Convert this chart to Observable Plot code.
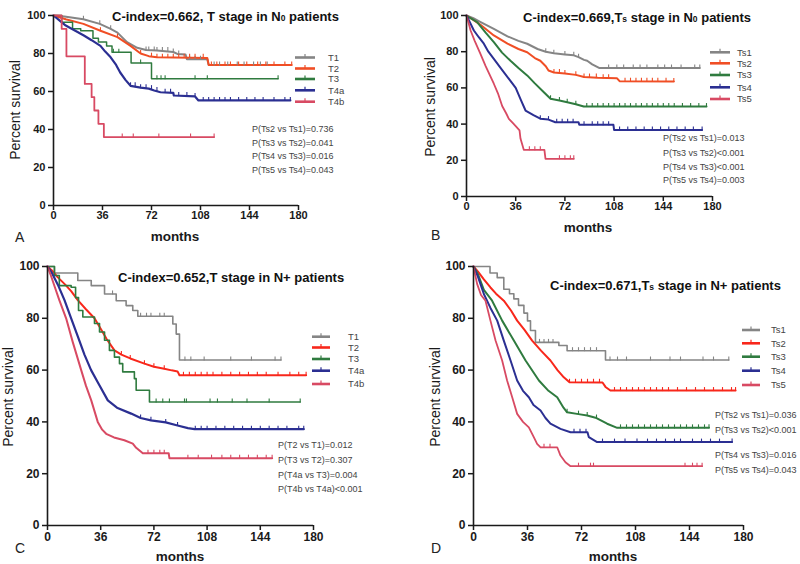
<!DOCTYPE html>
<html><head><meta charset="utf-8">
<script src="https://cdn.jsdelivr.net/npm/d3@7"></script>
<script src="https://cdn.jsdelivr.net/npm/@observablehq/plot@0.6"></script>
<style>
body{margin:0;background:#fff;}
#root{position:relative;width:800px;height:564px;overflow:hidden;background:#fff;font-family:"Liberation Sans",Arial,sans-serif;}
.panel{position:absolute;}
</style></head><body><div id="root"></div>
<script>
// ---------- shared ticks ----------
const xTicks = [0, 36, 72, 108, 144, 180];
const yTicks = [0, 20, 40, 60, 80, 100];

// ---------- Panel A: T stage in N0 ----------
const A_names = ["T1", "T2", "T3", "T4a", "T4b"];
const A_T1 = [[0,100],[8,99.5],[22,98],[34,95.6],[42,93],[47,91],[54,86],[61.5,83],[68,81.8],[76,81.6],[88,80.8],[91,79.8],[97,79.5],[98,77],[113,77],[114,74],[157,74]];
const A_T2 = [[0,100],[9,98],[22,95.6],[34.5,92],[47,88.6],[56.6,84],[64,80],[70,78.6],[76,78],[113,77.6],[114,74],[175,74]];
const A_T3 = [[0,100],[6,96.5],[14,93],[20,92],[29,88],[33,86],[39,84],[43,80.7],[57,75],[72,66.7],[165,66.7]];
const A_T4a = [[0,100],[5,97],[9,94.7],[16,92],[22.3,89.5],[28,87],[34.5,84],[38,81],[42,78],[46,74],[49,70],[53,66],[56.6,63],[64,62],[70,61.5],[74,60.5],[78.6,59.6],[88,59.3],[88.4,57.9],[104,57.4],[106.5,55.3],[174,55.3]];
const A_T4b = [[0,100],[6,93],[9.5,78.5],[23,64],[28,57],[30,50],[33,43],[37,36],[118,36]];
const A_T1_cens = [22,34,42,68,70,74,76,80,84,88,92,100,104,108,118,122,128,135,140,147,152];
const A_T2_cens = [34.5,47,64,72,76,80,84,88,92,96,100,104,110,116,120,126,130,136,142,150,156,162,170];
const A_T3_cens = [44,48,64,76,79,82,104,113];
const A_T4a_cens = [56.6,60,64,68,72,76,82,86,92,98,104,110,114,118,122,126,130,136,142,148,154,162,170];
const A_T4b_cens = [50.5,58.6,77.4,100.7];
const A_pvals = ["P(Ts2 vs Ts1)=0.736", "P(Ts3 vs Ts2)=0.041", "P(Ts4 vs Ts3)=0.016", "P(Ts5 vs Ts4)=0.043"];

// ---------- Panel B: Ts stage in N0 ----------
const B_names = ["Ts1", "Ts2", "Ts3", "Ts4", "Ts5"];
const B_Ts1 = [[0,100],[5,98.5],[10,96.5],[20,92.6],[30,88.5],[38,86],[44.4,84.4],[52,81.5],[58,80],[63.9,79.2],[72,78.5],[78.5,78],[82,77],[86,75.5],[88.3,75],[92,73],[97,71],[170.7,71]];
const B_Ts2 = [[0,100],[5,97.5],[10,95],[20,89],[30,84.5],[38,81.5],[44.4,79.7],[50,76.5],[54,75],[58,72],[60,69.6],[64,68.5],[72,68],[80,67.2],[86,66],[96,65.6],[110,65.4],[112,63.7],[151.7,63.5]];
const B_Ts3 = [[0,100],[3,98.5],[7.8,96.3],[14,90.5],[20,85.3],[26,79.5],[32.2,75],[38,71],[44.4,66.9],[50,62.5],[56.6,57.6],[61.5,54],[68,53],[73.7,52.1],[80,51],[85.8,49.7],[175.6,49.7]];
const B_Ts4 = [[0,100],[2,97],[5.4,91.7],[9,88],[12.7,84.4],[16,80],[20,76],[26,70],[32,64],[36,60],[40,53],[43.2,47.5],[49,45],[54,43],[60,42.5],[65,41],[82,41],[82.5,39.6],[107.5,39.6],[108,36.8],[172.4,36.8]];
const B_Ts5 = [[0,100],[1.5,96],[3,91.7],[6,86],[10.2,78.8],[14,72],[20,62.3],[23,57],[26.1,50],[29,46],[31,42.9],[34,40.5],[37,38],[38.8,36.5],[39.5,32],[41.9,25.8],[57,25.8],[57.8,20.8],[78.5,20.8]];
const B_Ts1_cens = [58,63.9,72,78.5,82,104,110,115,122,127,132,140,145,150,157,167];
const B_Ts2_cens = [64,68,72,80,86,90,95,100,104,116,120,124,128,132,136,140,146];
const B_Ts3_cens = [61.5,68,73.7,80,88,92,96,100,104,108,112,116,120,124,128,132,136,140,144,148,152,158,164,170];
const B_Ts4_cens = [54,60,66,70,74,78,86,92,96,100,104,112,118,124,130,136,142,148,154,160,166];
const B_Ts5_cens = [46,50,54,68,72,76];
const B_pvals = ["P(Ts2 vs Ts1)=0.013", "P(Ts3 vs Ts2)<0.001", "P(Ts4 vs Ts3)<0.001", "P(Ts5 vs Ts4)=0.003"];

// ---------- Panel C: T stage in N+ ----------
const C_names = ["T1", "T2", "T3", "T4a", "T4b"];
const C_T1 = [[0,100],[4.7,97.5],[20.5,94.6],[29.6,92.6],[38.6,89.4],[46.5,86.8],[53.2,84.9],[57.7,83],[61.1,80.8],[84.8,77.8],[87.1,73.9],[89.3,63.9],[158,63.9]];
const C_T2 = [[0,100],[3,98.5],[7,95.8],[12,93],[16,90.5],[20.5,87],[26,83.5],[31.8,80],[36,76],[40,72],[45.3,67.6],[50,66],[56,64.5],[65.6,62.5],[72,61.3],[79,60.5],[84,59.9],[88,59.5],[89.3,58],[175,58]];
const C_T3 = [[0,100],[4.7,96.5],[8,92.6],[16,92],[19,88],[21,83],[23.9,80.5],[31.8,78],[35.2,74.7],[38.6,71.5],[41.9,67.6],[45.3,65],[48.7,62.5],[50.9,59.3],[58.8,56.7],[60,52.2],[69,47.7],[171,47.7]];
const C_T4a = [[0,100],[3,97.5],[7,93],[11.5,87],[16,80],[20.5,73],[25,66],[29.5,60],[34,55.3],[40.8,48.3],[47,45.5],[56.6,43.2],[63,41.5],[70,40.6],[80,39.8],[88,38.6],[95,37.6],[99.5,37.2],[173.4,37.2]];
const C_T4b = [[0,100],[2,97],[5,92],[8,87],[12.6,80],[17,71],[22.8,60],[26,54],[29.6,48.3],[34,40],[37,37],[39.7,35.4],[45,34],[52,32.9],[57.7,31.6],[60,30],[64.5,27.9],[82,27.9],[82.5,26],[152,26]];
const C_T1_cens = [44,63,67,70,76,79,93,97,106,124,138,154];
const C_T2_cens = [50,56,65.6,72,79,92,96,100,104,108,112,118,124,130,136,142,148,156,164,170];
const C_T3_cens = [73.5,78,82.5,92.7,94,110,115,125,135,150];
const C_T4a_cens = [63,70,80,88,100,104,108,114,120,126,132,138,144,150,156,162,170];
const C_T4b_cens = [68,72,76,79,95,102,111,118,124,130,136,142,148];
const C_pvals = ["P(T2 vs T1)=0.012", "P(T3 vs T2)=0.307", "P(T4a vs T3)=0.004", "P(T4b vs T4a)<0.001"];

// ---------- Panel D: Ts stage in N+ ----------
const D_names = ["Ts1", "Ts2", "Ts3", "Ts4", "Ts5"];
const D_Ts1 = [[0,100],[11,97.5],[15.8,95.7],[20.2,91.2],[24,89.5],[26.9,87.5],[30,85],[33.6,82],[36,79],[38,75.3],[41.3,70.7],[56.9,69.5],[62.4,67.5],[88,63.9],[170.2,63.9]];
const D_Ts2 = [[0,100],[3,98],[6.9,95],[11.3,91.9],[15,89.5],[20.2,86.8],[25,83],[29.1,79.1],[34,75.5],[39.1,71.4],[45,67.5],[51.3,63.7],[56,60],[60.2,57.2],[64,55.3],[86,55.2],[88,53.5],[91.3,52.1],[174.7,52.1]];
const D_Ts3 = [[0,100],[3,97],[6.9,91],[12.4,86.8],[19.1,79.1],[26.9,71.4],[34.7,63.7],[43.6,56],[50,52],[55.8,49.5],[60,45.5],[62.4,43.7],[70,43],[75.8,42.5],[82,41.5],[89.1,39.3],[95.8,37.7],[157,37.7]];
const D_Ts4 = [[0,100],[3,96],[6.9,89.4],[11.3,84],[15.8,79.1],[20.2,71.4],[24.7,63.7],[29.1,56],[33,52],[36.9,49.5],[40,46.5],[44.7,44.4],[48,41.5],[51.3,39.3],[58,37.3],[64.7,36],[76,36],[76.9,34.1],[82.4,32.2],[172.4,32.2]];
const D_Ts5 = [[0,100],[2.4,93.3],[5,89],[8,86.8],[11.3,79.1],[14.7,71.4],[19.1,63.7],[22.4,56],[25.8,49.5],[29.1,43.1],[33,40],[36.9,37.9],[40.2,34.1],[42.4,31.5],[44.7,30.2],[55.8,30.2],[58,27],[61.3,24.4],[64.7,22.9],[152.4,22.9]];
const D_Ts1_cens = [44,47,50,53,66,70,74,78,82,91,96,102,118,131,138,153,160];
const D_Ts2_cens = [64,68,72,76,80,84,94,98,102,106,110,114,118,122,126,130,136,142,148,154,160,166,172];
const D_Ts3_cens = [62.4,70,75.8,82,98,102,106,110,114,118,122,126,130,134,138,142,146,150,154];
const D_Ts4_cens = [67,71,75,86,94,101,109,116,122,128,134,138,146,152,158,164];
const D_Ts5_cens = [47,51,70,78,80,141,146,149];
const D_pvals = ["P(Ts2 vs Ts1)=0.036", "P(Ts3 vs Ts2)<0.001", "P(Ts4 vs Ts3)=0.016", "P(Ts5 vs Ts4)=0.043"];

// ---------- styling ----------
const cGray = "#858585", cOrange = "#f04e25", cRed = "#f8271b", cGreen = "#2f7b3f", cBlue = "#2b2f92", cPink = "#d84a63";
const censorSymbol = {draw(ctx) { ctx.moveTo(0, 0.5); ctx.lineTo(0, -3.5); }};

function stepAt(pts, t) {
  let v = pts[0][1];
  for (const p of pts) { if (p[0] <= t) v = p[1]; else break; }
  return v;
}
function ser(name, pts, cens, color, curve, sw) { return {name, pts, cens, color, curve, sw}; }

const panels = [
  {left: 0, top: 0, width: 400, height: 250, m: [15, 102, 45, 53], fs: 11, xpad: 1,
   series: [
     ser(A_names[0], A_T1, A_T1_cens, cGray, "linear", 2),
     ser(A_names[1], A_T2, A_T2_cens, cOrange, "linear", 2),
     ser(A_names[2], A_T3, A_T3_cens, cGreen, "step-after", 1.5),
     ser(A_names[3], A_T4a, A_T4a_cens, cBlue, "linear", 2.2),
     ser(A_names[4], A_T4b, A_T4b_cens, cPink, "step-after", 1.8)],
   legend: {x1: 295, x2: 315, tx: 328, ys: [57.5, 68.5, 79, 90.3, 101.7]},
   pvals: {x: 252, ys: [131.5, 145.5, 159, 173], texts: A_pvals},
   title: {x: 112, y: 21, parts: [["C-index=0.662, T stage in N", 13], ["0", 8.5], [" patients", 13]]},
   ylab: [20, 110], xlab: [175, 241], letter: ["A", 15, 242]},
  {left: 400, top: 0, width: 400, height: 250, m: [15, 88, 54, 66], fs: 11, xpad: 1,
   series: [
     ser(B_names[0], B_Ts1, B_Ts1_cens, cGray, "linear", 2),
     ser(B_names[1], B_Ts2, B_Ts2_cens, cOrange, "linear", 2),
     ser(B_names[2], B_Ts3, B_Ts3_cens, cGreen, "linear", 2),
     ser(B_names[3], B_Ts4, B_Ts4_cens, cBlue, "linear", 2),
     ser(B_names[4], B_Ts5, B_Ts5_cens, cPink, "linear", 1.8)],
   legend: {x1: 710, x2: 730, tx: 737, ys: [52.3, 63.3, 75, 87.3, 99]},
   pvals: {x: 663, ys: [141, 155.5, 169.5, 183], texts: B_pvals},
   title: {x: 523, y: 22, parts: [["C-index=0.669,T", 13], ["s", 8.5], [" stage in N", 13], ["0", 8.5], [" patients", 13]]},
   ylab: [435, 107], xlab: [588, 231.5], letter: ["B", 431, 240]},
  {left: 0, top: 250, width: 400, height: 314, m: [16, 87, 39, 47], fs: 12, xpad: 2,
   series: [
     ser(C_names[0], C_T1, C_T1_cens, cGray, "step-after", 1.6),
     ser(C_names[1], C_T2, C_T2_cens, cRed, "linear", 2),
     ser(C_names[2], C_T3, C_T3_cens, cGreen, "step-after", 1.6),
     ser(C_names[3], C_T4a, C_T4a_cens, cBlue, "linear", 2.2),
     ser(C_names[4], C_T4b, C_T4b_cens, cPink, "linear", 2)],
   legend: {x1: 312, x2: 330, tx: 348, ys: [336.7, 347.5, 359, 370.7, 384]},
   pvals: {x: 278, ys: [447.5, 463, 477.5, 492], texts: C_pvals},
   title: {x: 118, y: 281.5, parts: [["C-index=0.652,T stage in N+ patients", 13]]},
   ylab: [12.5, 397], xlab: [180, 561], letter: ["C", 15, 553]},
  {left: 400, top: 250, width: 400, height: 314, m: [16, 57, 39, 73], fs: 12, xpad: 2,
   series: [
     ser(D_names[0], D_Ts1, D_Ts1_cens, cGray, "step-after", 1.6),
     ser(D_names[1], D_Ts2, D_Ts2_cens, cRed, "linear", 2),
     ser(D_names[2], D_Ts3, D_Ts3_cens, cGreen, "linear", 2),
     ser(D_names[3], D_Ts4, D_Ts4_cens, cBlue, "linear", 2),
     ser(D_names[4], D_Ts5, D_Ts5_cens, cPink, "linear", 1.8)],
   legend: {x1: 742, x2: 760, tx: 771, ys: [330, 343.3, 356.7, 370.7, 385]},
   pvals: {x: 715, ys: [418, 433, 458, 473], texts: D_pvals},
   title: {x: 550, y: 289.5, parts: [["C-index=0.671,T", 13], ["s", 8.5], [" stage in N+ patients", 13]]},
   ylab: [440, 397], xlab: [613, 561], letter: ["D", 431, 553]}
];

const root = document.getElementById("root");

for (const p of panels) {
  const marks = [];
  for (const s of p.series) {
    marks.push(Plot.line(s.pts, {x: d => d[0], y: d => d[1], stroke: s.color, strokeWidth: s.sw, curve: s.curve}));
  }
  for (const s of p.series) {
    const ts = s.cens.concat([s.pts[s.pts.length - 1][0]]);
    marks.push(Plot.dot(ts.map(t => ({t, v: stepAt(s.pts, t)})), {x: "t", y: "v", symbol: censorSymbol, stroke: s.color, fill: "none", strokeWidth: 1.1}));
  }
  marks.push(Plot.ruleX([0], {stroke: "#1a1a1a", strokeWidth: 1.6}));
  marks.push(Plot.ruleY([0], {stroke: "#1a1a1a", strokeWidth: 1.6}));
  marks.push(Plot.axisX({ticks: xTicks, tickSize: 5, tickPadding: p.xpad, strokeWidth: 1.5, label: null, fontWeight: "bold"}));
  marks.push(Plot.axisY({ticks: yTicks, tickSize: 5, tickPadding: 3, strokeWidth: 1.5, label: null, fontWeight: "bold"}));
  const chart = Plot.plot({
    width: p.width, height: p.height,
    marginTop: p.m[0], marginRight: p.m[1], marginBottom: p.m[2], marginLeft: p.m[3],
    x: {domain: [0, 180]},
    y: {domain: [0, 100]},
    style: {fontFamily: "Liberation Sans, Arial, sans-serif", fontSize: p.fs + "px", color: "#1a1a1a", background: "transparent", overflow: "visible"},
    marks
  });
  const wrap = document.createElement("div");
  wrap.className = "panel";
  wrap.style.left = p.left + "px";
  wrap.style.top = p.top + "px";
  wrap.appendChild(chart);
  root.appendChild(wrap);
}

// ---------- overlay texts & legends ----------
const ov = d3.select(root).append("svg")
  .attr("width", 800).attr("height", 564)
  .style("position", "absolute").style("left", "0px").style("top", "0px")
  .style("font-family", "Liberation Sans, Arial, sans-serif");

for (const p of panels) {
  const t = ov.append("text").attr("x", p.title.x).attr("y", p.title.y)
    .attr("font-weight", "bold").attr("fill", "#111");
  for (const [txt, fs] of p.title.parts) t.append("tspan").attr("font-size", fs).text(txt);
  p.series.forEach((s, i) => {
    const y = p.legend.ys[i];
    ov.append("line").attr("x1", p.legend.x1).attr("x2", p.legend.x2).attr("y1", y).attr("y2", y)
      .attr("stroke", s.color).attr("stroke-width", 2.6);
    const xm = (p.legend.x1 + p.legend.x2) / 2;
    ov.append("line").attr("x1", xm).attr("x2", xm).attr("y1", y).attr("y2", y - 3.5)
      .attr("stroke", s.color).attr("stroke-width", 1.2);
    ov.append("text").attr("x", p.legend.tx).attr("y", y + 3.3).attr("font-size", 9.5)
      .attr("fill", "#444").text(s.name);
  });
  p.pvals.texts.forEach((txt, i) => {
    ov.append("text").attr("x", p.pvals.x).attr("y", p.pvals.ys[i]).attr("font-size", 9)
      .attr("fill", "#444").text(txt);
  });
  ov.append("text").attr("transform", `translate(${p.ylab[0]},${p.ylab[1]}) rotate(-90)`)
    .attr("text-anchor", "middle").attr("font-size", 14).attr("fill", "#1a1a1a").text("Percent survival");
  ov.append("text").attr("x", p.xlab[0]).attr("y", p.xlab[1]).attr("text-anchor", "middle")
    .attr("font-size", 13.5).attr("font-weight", "bold").attr("fill", "#1a1a1a").text("months");
  ov.append("text").attr("x", p.letter[1]).attr("y", p.letter[2]).attr("font-size", 14)
    .attr("fill", "#222").text(p.letter[0]);
}
</script></body></html>
